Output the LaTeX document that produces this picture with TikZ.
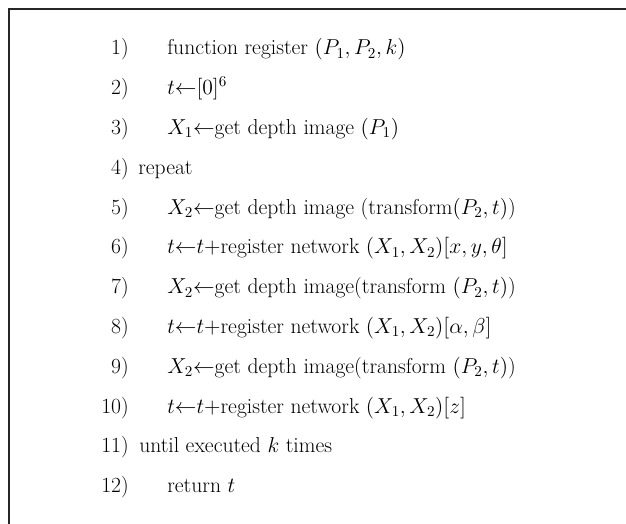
\RequirePackage{fix-cm}
\documentclass[tikz,border=0pt]{standalone}
\tikzset{
  num/.style={anchor=base east, inner sep=0pt, font=\fontsize{16.2}{19}\selectfont},
  line/.style={anchor=base west, inner sep=0pt, font=\fontsize{16.2}{19}\selectfont},
  frame/.style={draw=black!85, line width=1.5pt}
}
\newcommand{\la}{{\leftarrow}}
\begin{document}
\begin{tikzpicture}[x=0.75pt, y=-0.75pt]
  \useasboundingbox (0,0) rectangle (626,524);
  % open frame: only the left and top sides lie inside the page
  \draw[frame] (8.5,530) -- (8.5,9) -- (632,9);
  % step numbers
  \node[num] (n1)  at (129, 55.0) {1)};
  \node[num] (n2)  at (129, 94.8) {2)};
  \node[num] (n3)  at (129,134.6) {3)};
  \node[num] (n4)  at (129,174.4) {4)};
  \node[num] (n5)  at (129,214.2) {5)};
  \node[num] (n6)  at (129,254.0) {6)};
  \node[num] (n7)  at (129,293.8) {7)};
  \node[num] (n8)  at (129,333.6) {8)};
  \node[num] (n9)  at (129,373.4) {9)};
  \node[num] (n10) at (129,413.2) {10)};
  \node[num] (n11) at (129,453.0) {11)};
  \node[num] (n12) at (129,492.8) {12)};
  % step bodies
  \node[line] (l1)  at (167, 55.0) {function register $(P_1, P_2, k)$};
  \node[line] (l2)  at (167, 94.8) {$t\la[0]^6$};
  \node[line] (l3)  at (167,134.6) {$X_1\la$get depth image $(P_1)$};
  \node[line] (l4)  at (138,174.4) {repeat};
  \node[line] (l5)  at (167,214.2) {$X_2\la$get depth image (transform$(P_2, t)$)};
  \node[line] (l6)  at (167,254.0) {$t\la t{+}$register network $(X_1, X_2)[x, y, \theta]$};
  \node[line] (l7)  at (167,293.8) {$X_2\la$get depth image(transform $(P_2, t)$)};
  \node[line] (l8)  at (167,333.6) {$t\la t{+}$register network $(X_1, X_2)[\alpha, \beta]$};
  \node[line] (l9)  at (167,373.4) {$X_2\la$get depth image(transform $(P_2, t)$)};
  \node[line] (l10) at (167,413.2) {$t\la t{+}$register network $(X_1, X_2)[z]$};
  \node[line] (l11) at (139,453.0) {until executed $k$ times};
  \node[line] (l12) at (167,492.8) {return $t$};
\end{tikzpicture}
\end{document}
